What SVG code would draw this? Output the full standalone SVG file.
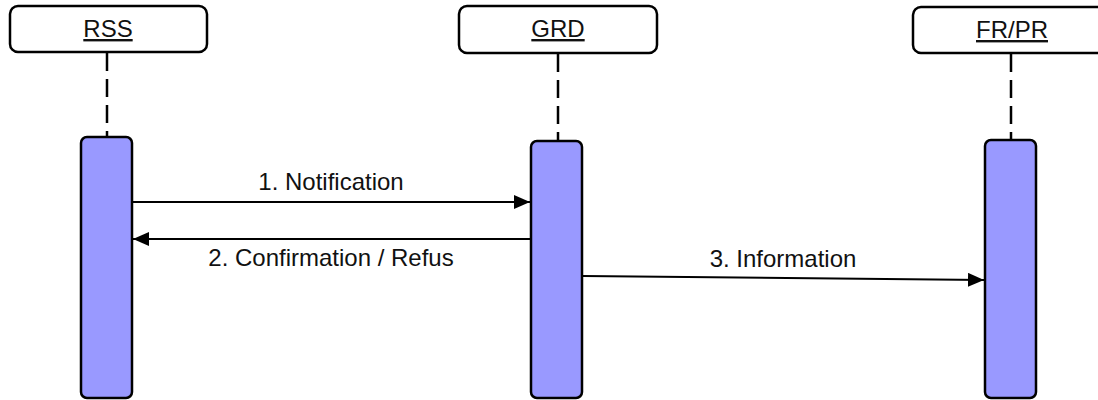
<svg xmlns="http://www.w3.org/2000/svg" width="1098" height="400" viewBox="0 0 1098 400">
<style>
.head{fill:#fff;stroke:#000;stroke-width:2.5}
.act{fill:#9999ff;stroke:#000;stroke-width:2.5}
.life{stroke:#000;stroke-width:2.5;stroke-dasharray:18 8;fill:none}
.lbl{font-family:"Liberation Sans",Arial,sans-serif;font-size:24px;fill:#111;text-anchor:middle}
.hl{text-decoration:underline}
.msg{stroke:#000;stroke-width:2;fill:none}
</style>
<defs>
<marker id="ah" viewBox="0 0 16 14" refX="16" refY="7" markerWidth="16" markerHeight="14" markerUnits="userSpaceOnUse" orient="auto">
<path d="M0,0 L16,7 L0,14 Z" fill="#000"/>
</marker>
</defs>
<g id="RSS">
<rect class="head" x="10" y="6" width="197" height="46" rx="8"/>
<text class="lbl hl" x="108" y="37">RSS</text>
<line class="life" x1="107" y1="53" x2="107" y2="137"/>
<rect class="act" x="81" y="137" width="51" height="261" rx="6"/>
</g>
<g id="GRD">
<rect class="head" x="459" y="6" width="198" height="47" rx="8"/>
<text class="lbl hl" x="558" y="37">GRD</text>
<line class="life" x1="558" y1="54" x2="558" y2="141"/>
<rect class="act" x="531" y="141" width="51" height="257" rx="6"/>
</g>
<g id="FRPR">
<rect class="head" x="913" y="7" width="198" height="46" rx="8"/>
<text class="lbl hl" x="1012" y="38">FR/PR</text>
<line class="life" x1="1011" y1="54" x2="1011" y2="140"/>
<rect class="act" x="985" y="140" width="51" height="258" rx="6"/>
</g>
<g id="connectors">
<line class="msg" x1="133" y1="202" x2="530" y2="202" marker-end="url(#ah)"/>
<text class="lbl" x="331" y="190">1. Notification</text>
<line class="msg" x1="530" y1="239" x2="133" y2="239" marker-end="url(#ah)"/>
<text class="lbl" x="331" y="266">2. Confirmation / Refus</text>
<line class="msg" x1="583" y1="276" x2="984" y2="280" marker-end="url(#ah)"/>
<text class="lbl" x="783" y="267">3. Information</text>
</g>
</svg>
